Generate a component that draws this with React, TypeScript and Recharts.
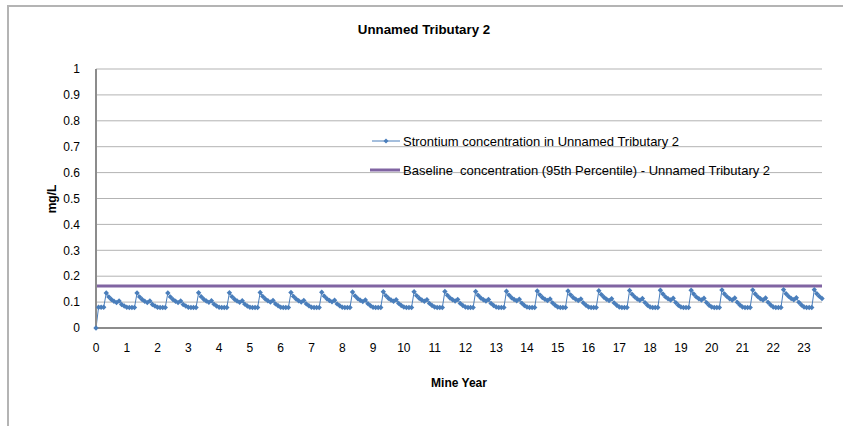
import React from 'react';
import { LineChart, Line, XAxis, YAxis, CartesianGrid, Legend } from 'recharts';

const chartTitle = 'Unnamed Tributary 2';
const xTitle = 'Mine Year';
const yTitle = 'mg/L';
const seriesName = 'Strontium concentration in Unnamed Tributary 2';
const baselineName = 'Baseline  concentration (95th Percentile) - Unnamed Tributary 2';

// monthly values (mg/L); month index / 12 = mine year
const startValues = [0, 0.08, 0.08, 0.08];
const cycleRows = [
  [0.135, 0.120, 0.110, 0.103, 0.098, 0.104, 0.091, 0.085, 0.080, 0.079, 0.079, 0.079],
  [0.135, 0.120, 0.110, 0.103, 0.098, 0.104, 0.091, 0.085, 0.080, 0.079, 0.079, 0.079],
  [0.135, 0.120, 0.110, 0.103, 0.098, 0.104, 0.091, 0.085, 0.080, 0.079, 0.079, 0.079],
  [0.136, 0.121, 0.111, 0.104, 0.099, 0.105, 0.092, 0.085, 0.080, 0.079, 0.079, 0.079],
  [0.136, 0.121, 0.111, 0.104, 0.099, 0.105, 0.092, 0.085, 0.080, 0.079, 0.079, 0.079],
  [0.137, 0.122, 0.112, 0.105, 0.100, 0.106, 0.093, 0.086, 0.080, 0.079, 0.079, 0.079],
  [0.137, 0.122, 0.112, 0.105, 0.100, 0.106, 0.093, 0.086, 0.080, 0.079, 0.079, 0.079],
  [0.138, 0.123, 0.113, 0.106, 0.101, 0.107, 0.093, 0.086, 0.080, 0.079, 0.079, 0.079],
  [0.139, 0.124, 0.114, 0.107, 0.102, 0.108, 0.094, 0.086, 0.080, 0.079, 0.079, 0.079],
  [0.140, 0.125, 0.115, 0.108, 0.103, 0.109, 0.095, 0.087, 0.081, 0.079, 0.079, 0.079],
  [0.140, 0.125, 0.115, 0.108, 0.103, 0.109, 0.095, 0.087, 0.081, 0.079, 0.079, 0.079],
  [0.141, 0.126, 0.116, 0.109, 0.104, 0.110, 0.095, 0.087, 0.081, 0.079, 0.079, 0.079],
  [0.141, 0.126, 0.116, 0.109, 0.104, 0.110, 0.095, 0.087, 0.081, 0.079, 0.079, 0.079],
  [0.142, 0.127, 0.117, 0.110, 0.105, 0.111, 0.096, 0.087, 0.081, 0.079, 0.079, 0.079],
  [0.143, 0.128, 0.118, 0.111, 0.106, 0.112, 0.097, 0.088, 0.081, 0.079, 0.079, 0.079],
  [0.143, 0.128, 0.118, 0.111, 0.106, 0.112, 0.097, 0.088, 0.081, 0.079, 0.079, 0.079],
  [0.144, 0.129, 0.119, 0.111, 0.106, 0.113, 0.097, 0.088, 0.081, 0.079, 0.079, 0.079],
  [0.145, 0.130, 0.120, 0.112, 0.107, 0.114, 0.098, 0.088, 0.081, 0.079, 0.079, 0.079],
  [0.146, 0.131, 0.120, 0.113, 0.108, 0.115, 0.098, 0.088, 0.081, 0.079, 0.079, 0.079],
  [0.146, 0.131, 0.120, 0.113, 0.108, 0.115, 0.098, 0.088, 0.081, 0.079, 0.079, 0.079],
  [0.147, 0.131, 0.121, 0.113, 0.108, 0.116, 0.099, 0.089, 0.081, 0.079, 0.079, 0.079],
  [0.147, 0.131, 0.121, 0.113, 0.108, 0.116, 0.099, 0.089, 0.081, 0.079, 0.079, 0.079],
  [0.148, 0.132, 0.122, 0.114, 0.109, 0.117, 0.099, 0.089, 0.081, 0.079, 0.079, 0.079],
];
const tailValues = [0.148, 0.132, 0.122, 0.114];
const baselineValue = 0.162;

const yearTicks = [0, 1, 2, 3, 4, 5, 6, 7, 8, 9, 10, 11, 12, 13, 14, 15, 16, 17, 18, 19, 20, 21, 22, 23];
const yTicks = [0, 0.1, 0.2, 0.3, 0.4, 0.5, 0.6, 0.7, 0.8, 0.9, 1];
const monthsPerYear = 12;

const strontium: number[] = [...startValues, ...cycleRows.flat(), ...tailValues];
const data = strontium.map((v, i) => ({ month: i, sr: v, base: baselineValue }));
const monthTicks = yearTicks.map((y) => y * monthsPerYear);

const BLUE = '#4A7EBB';
const PURPLE = '#8064A2';
const FONT = '"Liberation Sans", Arial, sans-serif';

const Diamond = (props: any) => {
  const { cx, cy, index } = props;
  if (cx == null || cy == null) return <g key={`d${index}`} />;
  const r = 2.7;
  return (
    <path
      key={`d${index}`}
      d={`M${cx},${cy - r}L${cx + r},${cy}L${cx},${cy + r}L${cx - r},${cy}Z`}
      fill={BLUE}
      stroke="none"
    />
  );
};

const LegendContent = () => (
  <svg width={430} height={46} style={{ overflow: 'visible' }}>
    <line x1={4} y1={10} x2={32} y2={10} stroke={BLUE} strokeWidth={1} />
    <path d="M18,7.5L20.5,10L18,12.5L15.5,10Z" fill={BLUE} />
    <text x={35} y={10} dy="0.35em" fontSize={13} fontFamily={FONT} fill="#000">
      {seriesName}
    </text>
    <line x1={2} y1={39} x2={32} y2={39} stroke={PURPLE} strokeWidth={3} />
    <text x={35} y={39} dy="0.35em" fontSize={13} fontFamily={FONT} fill="#000" style={{ whiteSpace: 'pre' }}>
      {baselineName}
    </text>
  </svg>
);

export default function App() {
  return (
    <div
      style={{
        position: 'absolute',
        left: 0,
        top: 0,
        width: 843,
        height: 426,
        overflow: 'hidden',
        background: '#fff',
        fontFamily: FONT,
      }}
    >
      <div
        style={{
          position: 'absolute',
          left: 7,
          top: 5,
          width: 900,
          height: 500,
          border: '2px solid #b4b4b4',
          boxSizing: 'border-box',
        }}
      />
      <div style={{ position: 'absolute', left: 0, top: 0 }}>
        <LineChart
          width={843}
          height={426}
          data={data}
          margin={{ top: 69, right: 21, bottom: 48, left: 56 }}
        >
          <CartesianGrid horizontal vertical={false} stroke="#b3b3b3" strokeWidth={1} />
          <XAxis
            dataKey="month"
            type="number"
            domain={[0, strontium.length - 1]}
            ticks={monthTicks}
            tickFormatter={(m: number) => String(m / monthsPerYear)}
            interval={0}
            height={50}
            tickLine={false}
            tickSize={0}
            tickMargin={15}
            axisLine={{ stroke: '#8c8c8c', strokeWidth: 2 }}
            tick={{ fill: '#000', fontSize: 12, fontFamily: FONT }}
          />
          <YAxis
            type="number"
            domain={[0, 1]}
            ticks={yTicks}
            interval={0}
            width={40}
            tickLine={false}
            tickSize={0}
            tickMargin={16}
            axisLine={{ stroke: '#8c8c8c', strokeWidth: 2 }}
            tick={{ fill: '#000', fontSize: 12, fontFamily: FONT }}
          />
          <Legend
            layout="vertical"
            align="center"
            verticalAlign="middle"
            content={LegendContent}
            wrapperStyle={{ position: 'absolute', left: 368, top: 131, width: 430, height: 46 }}
          />
          <Line
            dataKey="sr"
            name={seriesName}
            stroke={BLUE}
            strokeWidth={1}
            dot={Diamond}
            activeDot={false}
            isAnimationActive={false}
          />
          <Line
            dataKey="base"
            name={baselineName}
            stroke={PURPLE}
            strokeWidth={3}
            dot={false}
            activeDot={false}
            isAnimationActive={false}
          />
        </LineChart>
      </div>
      <svg
        width={843}
        height={426}
        style={{ position: 'absolute', left: 0, top: 0, pointerEvents: 'none' }}
      >
        <text x={424} y={29} dy="0.35em" textAnchor="middle" fontSize={13.3} fontWeight="bold" fontFamily={FONT} fill="#000">
          {chartTitle}
        </text>
        <text x={459} y={383} dy="0.35em" textAnchor="middle" fontSize={12} fontWeight="bold" fontFamily={FONT} fill="#000">
          {xTitle}
        </text>
        <text
          x={0}
          y={0}
          dy="0.35em"
          textAnchor="middle"
          fontSize={12}
          fontWeight="bold"
          fontFamily={FONT}
          fill="#000"
          transform="translate(52,199) rotate(-90)"
        >
          {yTitle}
        </text>
      </svg>
    </div>
  );
}
